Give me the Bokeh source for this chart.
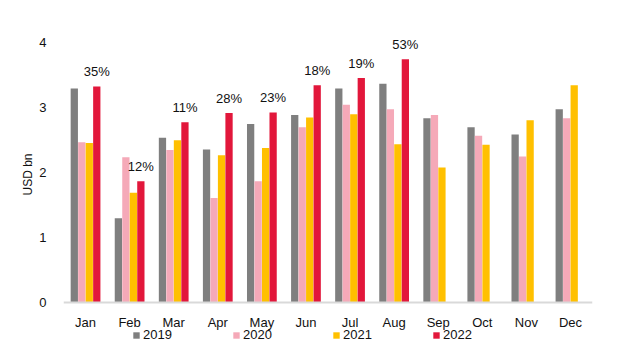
from bokeh.plotting import figure
from bokeh.models import ColumnDataSource, FactorRange, Range1d, FixedTicker, Legend, LegendItem, Span
from bokeh.transform import dodge
from bokeh.core.properties import value
from bokeh.embed import file_html
from bokeh.resources import INLINE

months = ["Jan", "Feb", "Mar", "Apr", "May", "Jun", "Jul", "Aug", "Sep", "Oct", "Nov", "Dec"]
v2019 = [3.30, 1.30, 2.54, 2.36, 2.75, 2.89, 3.30, 3.37, 2.84, 2.70, 2.59, 2.98]
v2020 = [2.47, 2.24, 2.35, 1.61, 1.87, 2.70, 3.05, 2.98, 2.89, 2.57, 2.25, 2.84]
v2021 = [2.46, 1.69, 2.50, 2.27, 2.38, 2.85, 2.90, 2.44, 2.08, 2.43, 2.81, 3.35]
months_2022 = ["Jan", "Feb", "Mar", "Apr", "May", "Jun", "Jul", "Aug"]
v2022 = [3.33, 1.87, 2.78, 2.92, 2.93, 3.35, 3.46, 3.75]
growth_labels = ["35%", "12%", "11%", "28%", "23%", "18%", "19%", "53%"]
y_ticks = [0, 1, 2, 3, 4]

FONT = "'Liberation Sans Narrow', 'Arial Narrow', 'Liberation Sans', sans-serif"
C2019 = "#7F7F7F"
C2020 = "#F5A9B8"
C2021 = "#FFC000"
C2022 = "#E2173B"

src = ColumnDataSource(dict(month=months, v2019=v2019, v2020=v2020, v2021=v2021,
                            zero=[0] * len(months)))
src22 = ColumnDataSource(dict(month=months_2022, v2022=v2022, lab=growth_labels))

p = figure(width=624, height=348, output_backend="svg", toolbar_location=None,
           x_range=FactorRange(*months), y_range=Range1d(-0.709, 4.655),
           min_border_left=63, min_border_right=32, min_border_top=0, min_border_bottom=0)
p.outline_line_color = None
p.grid.grid_line_color = None
p.background_fill_color = "white"
p.xaxis.visible = False

# baseline (x axis line)
p.add_layout(Span(location=0, dimension="width", line_color="#D9D9D9", line_width=2))

w = 0.165
r19 = p.vbar(x=dodge("month", -0.255, range=p.x_range), top="v2019", width=w, source=src,
             fill_color=C2019, line_color=None)
r20 = p.vbar(x=dodge("month", -0.085, range=p.x_range), top="v2020", width=w, source=src,
             fill_color=C2020, line_color=None)
r21 = p.vbar(x=dodge("month", 0.085, range=p.x_range), top="v2021", width=w, source=src,
             fill_color=C2021, line_color=None)
r22 = p.vbar(x=dodge("month", 0.255, range=p.x_range), top="v2022", width=w, source=src22,
             fill_color=C2022, line_color=None)

# growth labels above 2022 bars
p.text(x=dodge("month", 0.255, range=p.x_range), y="v2022", text="lab", source=src22,
       text_align="center", text_baseline="middle", y_offset=-15,
       text_font=value(FONT), text_font_size="13px", text_color="#111111")

# month (category) labels under the baseline
p.text(x="month", y="zero", text="month", source=src,
       text_align="center", text_baseline="middle", y_offset=20,
       text_font=value(FONT), text_font_size="13px", text_color="#111111")

# y axis
p.yaxis.ticker = FixedTicker(ticks=y_ticks)
p.yaxis.bounds = (0, 4.6)
p.yaxis.axis_line_color = None
p.yaxis.major_tick_line_color = None
p.yaxis.minor_tick_line_color = None
p.yaxis.major_label_text_font = FONT
p.yaxis.major_label_text_font_size = "13px"
p.yaxis.major_label_text_color = "#111111"
p.yaxis.major_label_standoff = 11
p.yaxis.axis_label = "USD bn"
p.yaxis.axis_label_text_font = FONT
p.yaxis.axis_label_text_font_size = "12px"
p.yaxis.axis_label_text_font_style = "normal"
p.yaxis.axis_label_text_color = "#111111"
p.yaxis.axis_label_standoff = 1

legend = Legend(items=[LegendItem(label="2019", renderers=[r19]),
                       LegendItem(label="2020", renderers=[r20]),
                       LegendItem(label="2021", renderers=[r21]),
                       LegendItem(label="2022", renderers=[r22])],
                orientation="horizontal", location=(69, 6),
                glyph_width=8, glyph_height=8, label_standoff=3, label_width=89,
                spacing=0, padding=0, margin=0, label_height=14,
                label_text_font=FONT, label_text_font_size="13px", label_text_color="#111111",
                border_line_color=None, background_fill_alpha=0)
p.add_layout(legend)

open("out.html", "w").write(file_html(p, INLINE))
